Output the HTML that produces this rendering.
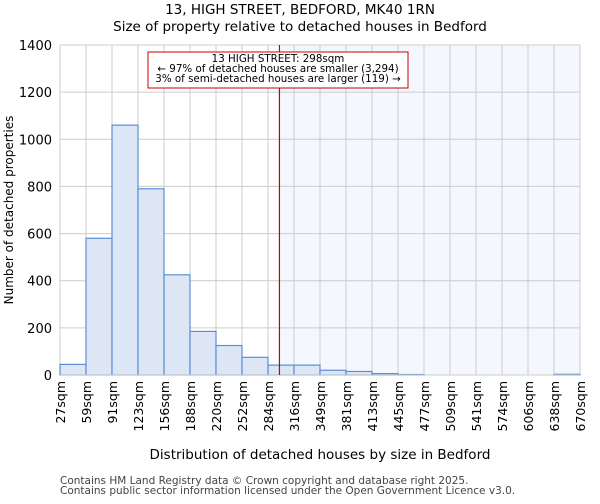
<!DOCTYPE html>
<html><head><meta charset="utf-8"><style>
body{margin:0;background:#fff;font-family:"DejaVu Sans","Liberation Sans",sans-serif;}
</style></head><body>
<svg width="600" height="500" xmlns="http://www.w3.org/2000/svg" font-family="DejaVu Sans, Liberation Sans, sans-serif">
<text x="300" y="14" font-size="13.5" text-anchor="middle">13, HIGH STREET, BEDFORD, MK40 1RN</text>
<text x="300" y="31" font-size="13.5" text-anchor="middle">Size of property relative to detached houses in Bedford</text>
<g id="plot"></g>
<text x="320" y="459" font-size="13.5" text-anchor="middle">Distribution of detached houses by size in Bedford</text>
<text transform="translate(13,210) rotate(-90)" font-size="12" text-anchor="middle">Number of detached properties</text>
<text x="60" y="484" font-size="10.5" fill="#444">Contains HM Land Registry data © Crown copyright and database right 2025.</text>
<text x="60" y="494" font-size="10.5" fill="#444">Contains public sector information licensed under the Open Government Licence v3.0.</text>
</svg>
<script>
const edges=["27sqm","59sqm","91sqm","123sqm","156sqm","188sqm","220sqm","252sqm","284sqm","316sqm","349sqm","381sqm","413sqm","445sqm","477sqm","509sqm","541sqm","574sqm","606sqm","638sqm","670sqm"];
const counts=[45,580,1060,790,425,185,125,75,42,42,20,15,6,2,0,0,0,0,0,3];
const yTicks=[0,200,400,600,800,1000,1200,1400];
const subjectIndex=8.44; // 298sqm position in bin units
const NS="http://www.w3.org/2000/svg";
const L=60,R=580,T=45,B=375,yMax=1400;
const n=counts.length;
const xs=i=>L+(R-L)*i/n;
const ys=v=>B-(B-T)*v/yMax;
const g=document.getElementById('plot');
function mk(t,a){const e=document.createElementNS(NS,t);for(const k in a)e.setAttribute(k,a[k]);g.appendChild(e);return e;}
let e=mk('rect',{x:xs(subjectIndex),y:T,width:R-xs(subjectIndex),height:B-T,fill:'#f5f7fe'});


yTicks.forEach(v=>{
 let l=mk('line',{x1:L,x2:R,y1:ys(v),y2:ys(v),stroke:'#cccccc','stroke-width':1});
 
 
 let t=mk('text',{x:L-8,y:ys(v)+5,'font-size':13,'text-anchor':'end'});
 t.textContent=v;
 
 
});
edges.forEach((lab,i)=>{
 let l=mk('line',{x1:xs(i),x2:xs(i),y1:T,y2:B,stroke:'#cccccc','stroke-width':1});
 
 
 let t=mk('text',{transform:`translate(${xs(i)+5},${B+6}) rotate(-90)`,'font-size':12.5,'text-anchor':'end'});
 t.textContent=lab;
 
 
});
counts.forEach((v,i)=>{
 let r=mk('rect',{x:xs(i),y:ys(v),width:xs(1)-xs(0),height:B-ys(v),fill:'#dce6f4',stroke:'#5b8fd6','stroke-width':1.2});
 
 
});
let ax=mk('line',{x1:L,x2:R,y1:B,y2:B,stroke:'#cccccc','stroke-width':1});


let ml=mk('line',{x1:xs(subjectIndex),x2:xs(subjectIndex),y1:T,y2:B,stroke:'#cc0000','stroke-width':1.2});


let box=mk('rect',{x:148,y:52,width:260,height:36,fill:'#fff',stroke:'#cc0000','stroke-width':1});


["13 HIGH STREET: 298sqm","← 97% of detached houses are smaller (3,294)","3% of semi-detached houses are larger (119) →"].forEach((s,i)=>{
 let t=mk('text',{x:278,y:62+i*10,'font-size':10.3,'text-anchor':'middle'});
 t.textContent=s;
 
 
});
</script>
</body></html>
